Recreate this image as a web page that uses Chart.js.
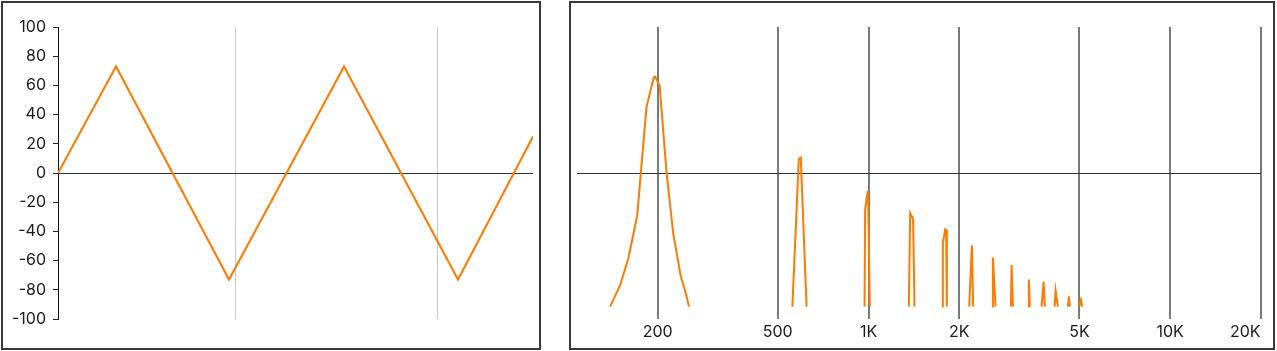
<!DOCTYPE html>
<html>
<head>
<meta charset="utf-8">
<script src="https://cdn.jsdelivr.net/npm/chart.js@4"></script>
<style>
  html, body { margin: 0; padding: 0; background: #fff; }
  body { width: 1277px; height: 351px; position: relative; overflow: hidden; }
  .panel { position: absolute; top: 1px; height: 349px; box-sizing: border-box; border: 2px solid #3a3a3a; }
  #wavePanel { left: 1px; width: 540px; }
  #specPanel { left: 569px; width: 706px; }
  canvas { display: block; }
</style>
</head>
<body>
<div class="panel" id="wavePanel"><canvas id="wave" width="536" height="345"></canvas></div>
<div class="panel" id="specPanel"><canvas id="spectrum" width="702" height="345"></canvas></div>
<script>
// waveform (left)
const waveTime = [0, 0.58, 1.71, 2.86, 4.0, 4.75];
const waveLevel = [0, 73, -73, 73, -73, 25];
const waveGridTimes = [1.77, 3.79];

// spectrum (right), null = gap between harmonics
const spectrumFreq = [
  139, 150, 160, 171, 183.5, 194, 196, 203, 214, 225, 238, 246, 254, 400,
  559, 587, 596, 623, 800,
  970, 974, 992, 996, 1010, 1200,
  1360, 1374, 1405, 1420, 1600,
  1759, 1763, 1795, 1808, 1818, 2000,
  2156, 2201, 2222, 2400,
  2570, 2583, 2637, 2800,
  2965, 2980, 3010, 3200,
  3382, 3400, 3426, 3600,
  3745, 3804, 3842, 4000,
  4138, 4170, 4243, 4400,
  4580, 4615, 4650, 4800,
  4993, 5058, 5108
];
const spectrumLevel = [
  -91.5, -77, -58, -29, 45, 65.5, 66, 59.5, 0, -41, -70, -80, -91.5, null,
  -91.5, 9.5, 10.5, -91.5, null,
  -91.5, -25, -13.5, -14, -91.5, null,
  -91.5, -27.5, -31.5, -91.5, null,
  -91.5, -48, -38.5, -39, -91.5, null,
  -91.5, -49.5, -91.5, null,
  -91.5, -58, -91.5, null,
  -91.5, -63, -91.5, null,
  -91.5, -73, -91.5, null,
  -91.5, -74.5, -91.5, null,
  -91.5, -80.5, -91.5, null,
  -91.5, -84.5, -91.5, null,
  -91.5, -87, -91.5
];
const freqTicks = [200, 500, 1000, 2000, 5000, 10000, 20000];
const freqLabels = ['200', '500', '1K', '2K', '5K', '10K', '20K'];

const orange = '#ff7a00';

Chart.defaults.font.family = "Inter, 'Liberation Sans', Arial, sans-serif";
Chart.defaults.font.size = 16;
Chart.defaults.color = '#1a1a1a';

const zeroOnly = (c) => (c.tick && c.tick.value === 0 ? '#333' : 'rgba(0,0,0,0)');

new Chart('wave', {
  type: 'line',
  data: {
    datasets: [{
      data: waveTime.map((t, i) => ({ x: t, y: waveLevel[i] })),
      borderColor: orange,
      borderWidth: 2,
      pointRadius: 0,
      fill: false,
    }],
  },
  options: {
    responsive: false,
    animation: false,
    layout: { padding: { top: 24, right: 6, left: 0, bottom: 0 } },
    plugins: { legend: { display: false }, tooltip: { enabled: false } },
    scales: {
      x: {
        type: 'linear',
        min: 0,
        max: 4.75,
        afterBuildTicks: (s) => { s.ticks = waveGridTimes.map((v) => ({ value: v })); },
        ticks: { display: false },
        grid: { color: '#c8c8c8', lineWidth: 1, drawTicks: false },
        border: { display: false },
        afterFit: (s) => { s.height = 29; s.paddingLeft = 0; s.paddingRight = 0; },
      },
      y: {
        min: -100,
        max: 100,
        ticks: { stepSize: 20, padding: 7 },
        grid: { color: zeroOnly, tickColor: '#222', tickLength: 5 },
        border: { display: true, color: '#111', width: 1 },
        afterFit: (s) => { s.width = 55; },
      },
    },
  },
});

new Chart('spectrum', {
  type: 'line',
  data: {
    datasets: [{
      data: spectrumFreq.map((f, i) => ({ x: f, y: spectrumLevel[i] })),
      borderColor: orange,
      borderWidth: 2,
      pointRadius: 0,
      spanGaps: false,
      fill: false,
    }],
  },
  options: {
    responsive: false,
    animation: false,
    layout: { padding: { top: 24, left: 6, right: 12, bottom: 0 } },
    plugins: { legend: { display: false }, tooltip: { enabled: false } },
    scales: {
      x: {
        type: 'logarithmic',
        min: 108,
        max: 20000,
        afterBuildTicks: (s) => { s.ticks = freqTicks.map((v) => ({ value: v })); },
        ticks: {
          padding: 4,
          maxRotation: 0,
          autoSkip: false,
          // last label sits left of its line
          callback: (v, i) => (i === freqTicks.length - 1 ? freqLabels[i] + '\u00a0'.repeat(7) : freqLabels[i]),
        },
        grid: { color: '#7a7a7a', lineWidth: 2, drawTicks: false },
        border: { display: false },
        afterFit: (s) => { s.height = 29; s.paddingLeft = 0; s.paddingRight = 0; },
      },
      y: {
        min: -100,
        max: 100,
        ticks: { display: false, stepSize: 20 },
        grid: { color: zeroOnly, drawTicks: false },
        border: { display: false },
        afterFit: (s) => { s.width = 0; },
      },
    },
  },
});
</script>
</body>
</html>
